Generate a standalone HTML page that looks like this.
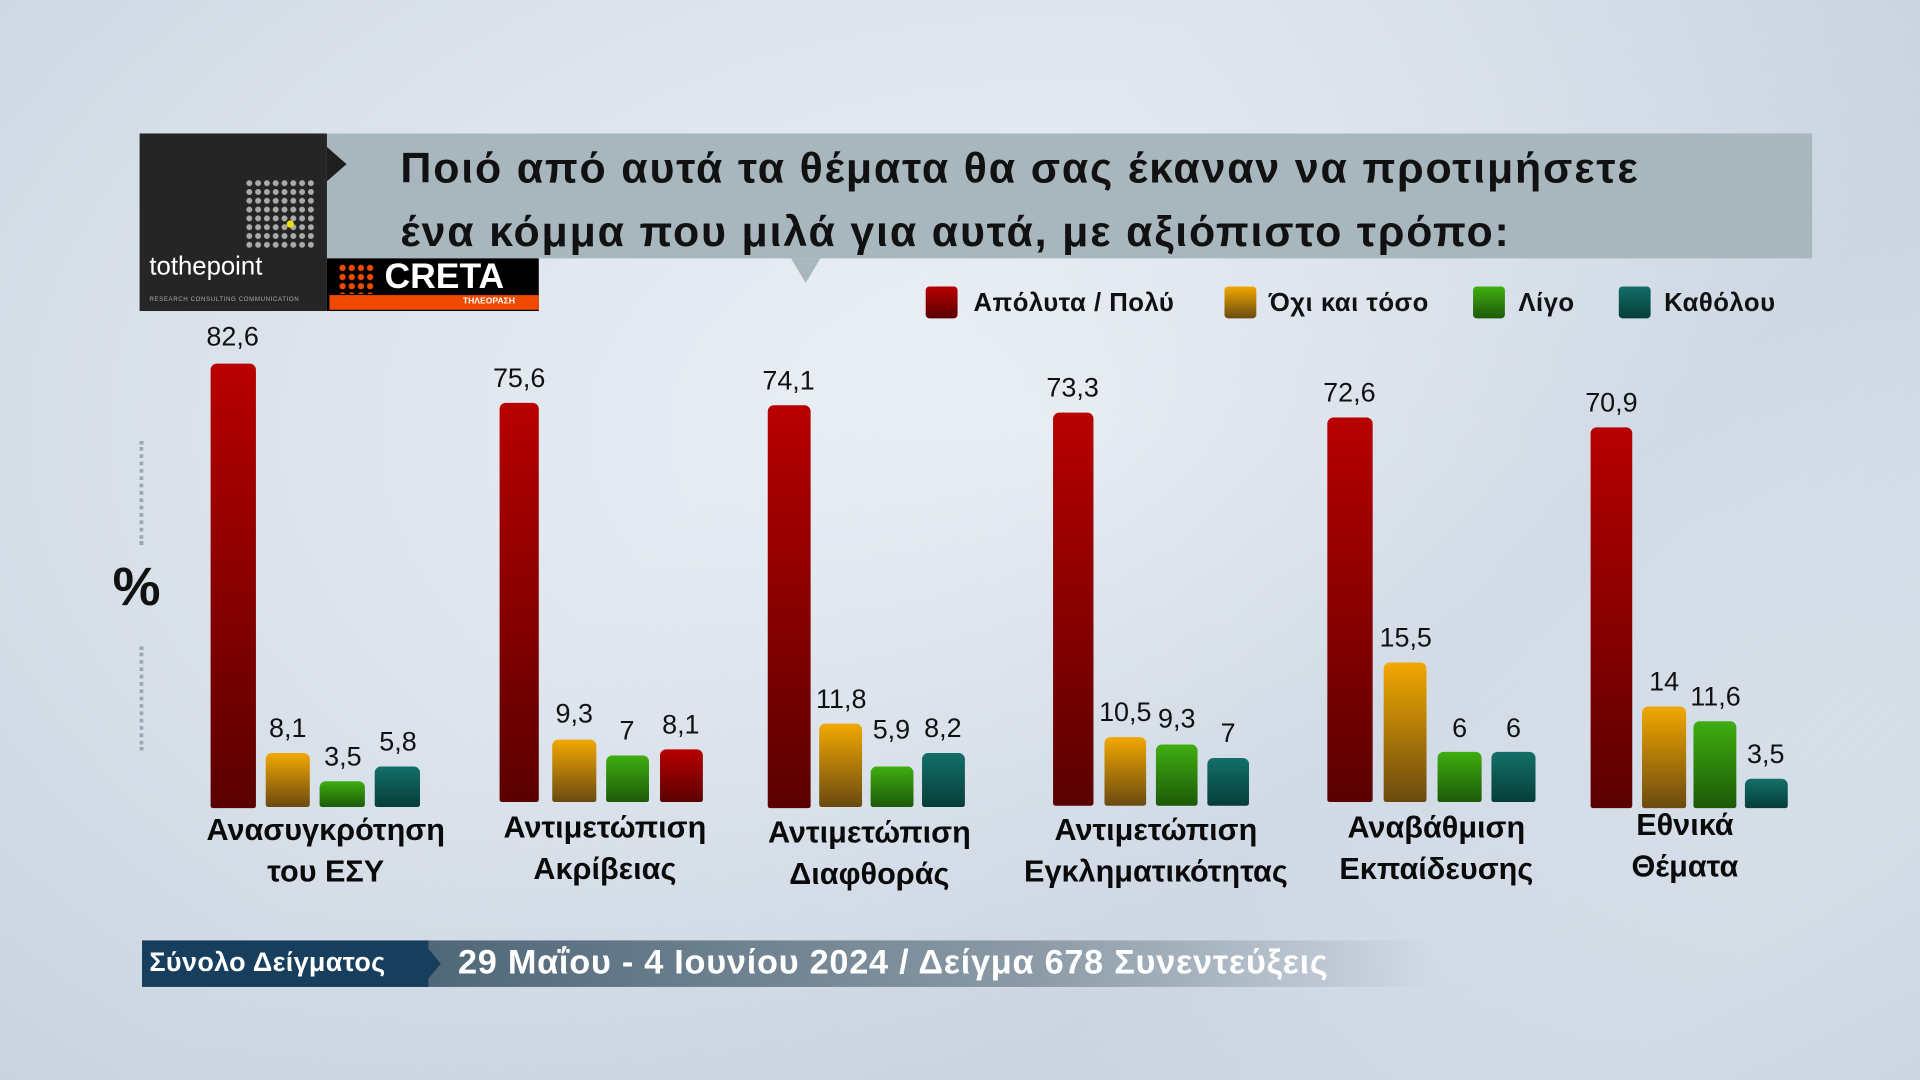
<!DOCTYPE html>
<html><head><meta charset="utf-8"><style>
html,body{margin:0;padding:0;width:1920px;height:1080px;overflow:hidden}
#s{position:absolute;left:0;top:0;width:1568px;height:882px;transform:scale(1.22449);transform-origin:0 0;
background:radial-gradient(ellipse at 55% 40%,#eef2f7 0%,#dde4ed 50%,#c9d3df 100%);font-family:"Liberation Sans","DejaVu Sans",sans-serif;overflow:hidden}
.a{position:absolute}
.bar{position:absolute;border-radius:5px 5px 2px 2px}
.r{background:linear-gradient(#b80000,#5a0000)}
.o{background:linear-gradient(#f2a800,#6b4a10)}
.g{background:linear-gradient(#3fae10,#1d5a08)}
.t{background:linear-gradient(#137068,#063d3a)}
.v{position:absolute;font-size:22px;color:#111;text-align:center;width:60px}
.c{position:absolute;font-size:25px;font-weight:bold;color:#0a0a0a;text-align:center;line-height:34px;width:260px}
.lg{position:absolute;top:236px;font-size:21px;font-weight:bold;color:#111;letter-spacing:.4px}
.sw{position:absolute;top:234px;width:26px;height:26px;border-radius:3px}
</style></head><body><div id="s">
<div class="a" style="left:0;top:0;width:1568px;height:882px;background:linear-gradient(135deg,rgba(255,255,255,0) 40%,rgba(180,195,212,.35) 70%,rgba(255,255,255,0) 90%)"></div>
<div class="a" style="left:267px;top:109px;width:1213px;height:102px;background:#a8b6be"></div>
<div class="a" style="left:267px;top:120px;width:0;height:0;border-top:14px solid transparent;border-bottom:14px solid transparent;border-left:16px solid #1e1e1e"></div>
<div class="a" style="left:646px;top:211px;width:0;height:0;border-left:12px solid transparent;border-right:12px solid transparent;border-top:20px solid #a8b6be"></div>
<div class="a" style="left:327px;top:112px;font-size:35px;font-weight:bold;color:#111;line-height:52px;letter-spacing:1.5px">Ποιό από αυτά τα θέματα θα σας έκαναν να προτιμήσετε<br>ένα κόμμα που μιλά για αυτά, με αξιόπιστο τρόπο:</div>
<div class="a" style="left:114px;top:109px;width:153px;height:145px;background:#252525"></div>
<div class="a" style="left:200px;top:146px;width:58px;height:58px;background:radial-gradient(circle,#aaa 2.2px,transparent 2.6px);background-size:7.2px 7.2px"></div>
<div class="a" style="left:234px;top:180px;width:6px;height:6px;border-radius:3px;background:#e8e000"></div>
<div class="a" style="left:122px;top:206px;font-size:21px;color:#fff">tothepoint</div>
<div class="a" style="left:122px;top:242px;font-size:5px;color:#aaa;letter-spacing:.5px">RESEARCH CONSULTING COMMUNICATION</div>
<div class="a" style="left:267px;top:211px;width:173px;height:43px;background:#000"></div>
<div class="a" style="left:269px;top:241px;width:171px;height:12px;background:#f04a00"></div>
<div class="a" style="left:276px;top:215px;width:30px;height:25px;background:radial-gradient(circle,#f04a00 2.3px,transparent 2.8px);background-size:7.5px 7.5px"></div>
<div class="a" style="left:314px;top:210px;font-size:29px;font-weight:bold;color:#fff">CRETA</div>
<div class="a" style="left:378px;top:243px;font-size:7px;font-weight:bold;color:#fff">ΤΗΛΕΟΡΑΣΗ</div>
<div class="sw r" style="left:756px"></div><div class="lg" style="left:795px">Απόλυτα / Πολύ</div>
<div class="sw o" style="left:1000px"></div><div class="lg" style="left:1036px">Όχι και τόσο</div>
<div class="sw g" style="left:1203px"></div><div class="lg" style="left:1240px">Λίγο</div>
<div class="sw t" style="left:1322px"></div><div class="lg" style="left:1359px">Καθόλου</div>
<div class="a" style="left:92px;top:455px;font-size:44px;font-weight:bold;color:#111">%</div>
<div class="a" style="left:114px;top:360px;border-left:3px dotted #9aa6b2;height:85px"></div>
<div class="a" style="left:114px;top:528px;border-left:3px dotted #9aa6b2;height:85px"></div>

<div class="bar r" style="left:172px;top:297px;width:37px;height:363px"></div>
<div class="bar o" style="left:217px;top:615px;width:36px;height:44px"></div>
<div class="bar g" style="left:261px;top:638px;width:37px;height:21px"></div>
<div class="bar t" style="left:306px;top:626px;width:37px;height:33px"></div>
<div class="v" style="left:160px;top:262px">82,6</div><div class="v" style="left:205px;top:582px">8,1</div><div class="v" style="left:250px;top:605px">3,5</div><div class="v" style="left:295px;top:593px">5,8</div>

<div class="bar r" style="left:408px;top:329px;width:32px;height:326px"></div>
<div class="bar o" style="left:451px;top:604px;width:36px;height:51px"></div>
<div class="bar g" style="left:495px;top:617px;width:35px;height:38px"></div>
<div class="bar r" style="left:539px;top:612px;width:35px;height:43px"></div>
<div class="v" style="left:394px;top:296px">75,6</div><div class="v" style="left:439px;top:570px">9,3</div><div class="v" style="left:482px;top:584px">7</div><div class="v" style="left:526px;top:579px">8,1</div>

<div class="bar r" style="left:627px;top:331px;width:35px;height:329px"></div>
<div class="bar o" style="left:669px;top:591px;width:35px;height:68px"></div>
<div class="bar g" style="left:711px;top:626px;width:35px;height:33px"></div>
<div class="bar t" style="left:753px;top:615px;width:35px;height:44px"></div>
<div class="v" style="left:614px;top:298px">74,1</div><div class="v" style="left:657px;top:558px">11,8</div><div class="v" style="left:698px;top:583px">5,9</div><div class="v" style="left:740px;top:582px">8,2</div>

<div class="bar r" style="left:860px;top:337px;width:33px;height:321px"></div>
<div class="bar o" style="left:902px;top:602px;width:34px;height:56px"></div>
<div class="bar g" style="left:944px;top:608px;width:34px;height:50px"></div>
<div class="bar t" style="left:986px;top:619px;width:34px;height:39px"></div>
<div class="v" style="left:846px;top:304px">73,3</div><div class="v" style="left:889px;top:569px">10,5</div><div class="v" style="left:931px;top:574px">9,3</div><div class="v" style="left:973px;top:586px">7</div>

<div class="bar r" style="left:1084px;top:341px;width:37px;height:314px"></div>
<div class="bar o" style="left:1130px;top:541px;width:35px;height:114px"></div>
<div class="bar g" style="left:1174px;top:614px;width:36px;height:41px"></div>
<div class="bar t" style="left:1218px;top:614px;width:36px;height:41px"></div>
<div class="v" style="left:1072px;top:308px">72,6</div><div class="v" style="left:1118px;top:508px">15,5</div><div class="v" style="left:1162px;top:582px">6</div><div class="v" style="left:1206px;top:582px">6</div>

<div class="bar r" style="left:1299px;top:349px;width:34px;height:311px"></div>
<div class="bar o" style="left:1341px;top:577px;width:36px;height:83px"></div>
<div class="bar g" style="left:1383px;top:589px;width:35px;height:71px"></div>
<div class="bar t" style="left:1425px;top:636px;width:35px;height:24px"></div>
<div class="v" style="left:1286px;top:316px">70,9</div><div class="v" style="left:1329px;top:544px">14</div><div class="v" style="left:1371px;top:556px">11,6</div><div class="v" style="left:1412px;top:603px">3,5</div>

<div class="c" style="left:136px;top:661px">Ανασυγκρότηση<br>του ΕΣΥ</div>
<div class="c" style="left:364px;top:659px">Αντιμετώπιση<br>Ακρίβειας</div>
<div class="c" style="left:580px;top:663px">Αντιμετώπιση<br>Διαφθοράς</div>
<div class="c" style="left:814px;top:661px">Αντιμετώπιση<br>Εγκληματικότητας</div>
<div class="c" style="left:1043px;top:659px">Αναβάθμιση<br>Εκπαίδευσης</div>
<div class="c" style="left:1246px;top:657px">Εθνικά<br>Θέματα</div>

<div class="a" style="left:350px;top:768px;width:820px;height:38px;background:linear-gradient(90deg,#4f6778 0%,#8b9aa6 60%,rgba(200,208,216,0) 100%)"></div>
<div class="a" style="left:116px;top:768px;width:234px;height:38px;background:#173e5c"></div>
<div class="a" style="left:122px;top:773px;font-size:22px;font-weight:bold;color:#fff;letter-spacing:.3px">Σύνολο Δείγματος</div>
<div class="a" style="left:350px;top:775px;width:0;height:0;border-top:12px solid transparent;border-bottom:12px solid transparent;border-left:10px solid #173e5c"></div>
<div class="a" style="left:374px;top:770px;font-size:28px;font-weight:bold;color:#fff;letter-spacing:.6px">29 Μαΐου - 4 Ιουνίου 2024 / Δείγμα 678 Συνεντεύξεις</div>
</div></body></html>
